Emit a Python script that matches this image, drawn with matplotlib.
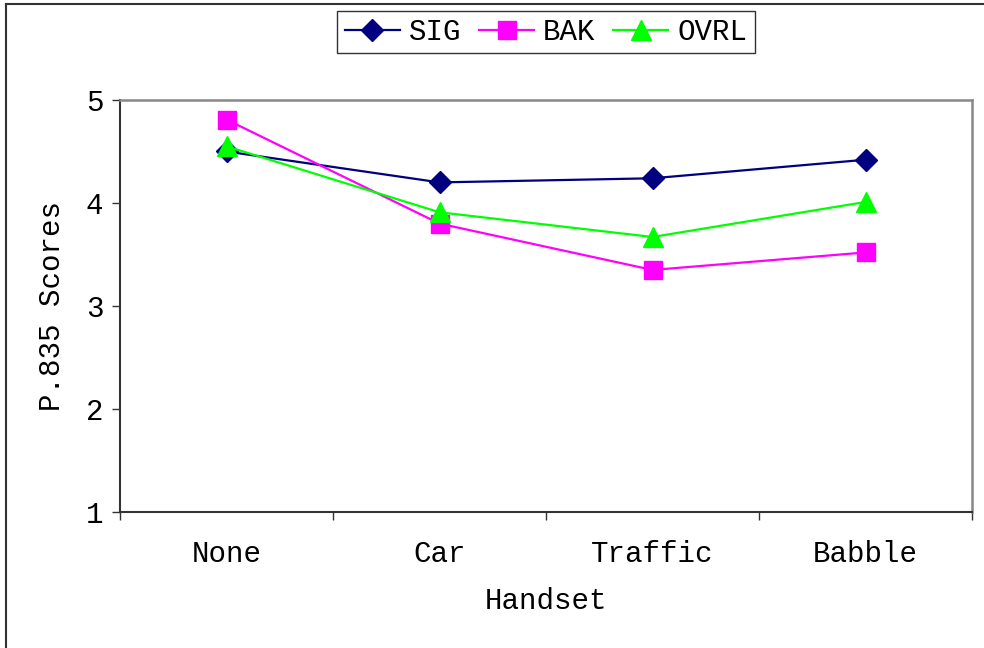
import numpy as np
import matplotlib
matplotlib.use("Agg")
import matplotlib.pyplot as plt
from matplotlib.lines import Line2D

categories = ['None', 'Car', 'Traffic', 'Babble']
sig = [4.50, 4.20, 4.24, 4.42]
bak = [4.81, 3.80, 3.35, 3.52]
ovrl = [4.55, 3.91, 3.67, 4.01]

plt.rcParams['font.family'] = ['Liberation Mono', 'DejaVu Sans']
fs = 21

fig = plt.figure(figsize=(9.84, 6.48), dpi=100)
ax = fig.add_axes([120/984, 1-512/648, 852/984, 412/648])

x = np.arange(len(categories))
ax.plot(x, sig, color='#000080', marker='D', ms=11, lw=1.6, label='SIG')
ax.plot(x, bak, color='#FF00FF', marker='s', ms=13, lw=1.6, label='BAK')
ax.plot(x, ovrl, color='#00FF00', marker='^', ms=14, lw=1.6, label='OVRL')

ax.set_xlim(-0.5, 3.5)
ax.set_ylim(1, 5)
ax.set_yticks([1, 2, 3, 4, 5])
ax.set_xticks(x)
ax.set_xticklabels(categories)
ax.set_xticks(np.arange(-0.5, 4, 1), minor=True)
ax.tick_params(axis='x', which='major', length=0, pad=20, labelsize=fs)
ax.tick_params(axis='x', which='minor', length=6, width=1, color='#333333')
ax.tick_params(axis='y', length=6, width=1, color='#333333', pad=6, labelsize=fs)

for s in ['left', 'bottom']:
    ax.spines[s].set_color('#333333')
    ax.spines[s].set_linewidth(1.5)
for s in ['top', 'right']:
    ax.spines[s].set_color('#888888')
    ax.spines[s].set_linewidth(1.8)

ax.set_xlabel('Handset', fontsize=fs, labelpad=14)
ax.set_ylabel('P.835 Scores', fontsize=fs, labelpad=14)

leg = ax.legend(loc='center', bbox_to_anchor=(0.5, 1.165), ncol=3, fontsize=fs,
                frameon=True, fancybox=False, edgecolor='black',
                handlelength=1.9, columnspacing=0.6, handletextpad=0.3,
                borderpad=0.25, borderaxespad=0)
leg.get_frame().set_linewidth(1.0)

# outer chart border
fig.add_artist(Line2D([6/984, 6/984], [0, 1-4/648], transform=fig.transFigure,
                      color='#333333', lw=1.5))
fig.add_artist(Line2D([6/984, 1], [1-4/648, 1-4/648], transform=fig.transFigure,
                      color='#333333', lw=1.5))

fig.savefig('out.png', dpi=100)
